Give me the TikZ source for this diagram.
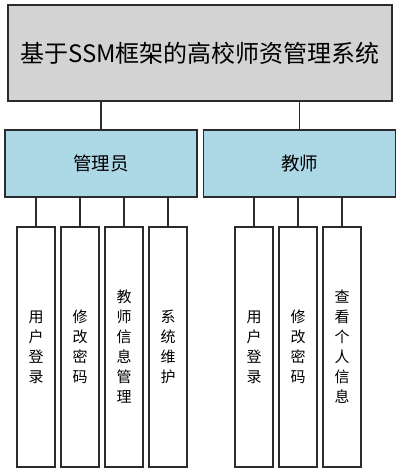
\documentclass[tikz,border=0pt]{standalone}
\usepackage{fontspec}
\newfontfamily\cjk{Noto Sans CJK SC}
\definecolor{boxline}{HTML}{2B2B2B}
\definecolor{titlegray}{HTML}{D3D3D3}
\definecolor{roleblue}{HTML}{ADD8E6}
\begin{document}
\begin{tikzpicture}[x=1pt, y=-1pt,
    every node/.style={draw=boxline, line width=1.3pt, rectangle, inner sep=0pt},
    titlebox/.style={minimum width=384pt, minimum height=96pt, fill=titlegray, font=\cjk\fontsize{24}{28}\selectfont},
    rolebox/.style={minimum width=192pt, minimum height=67pt, fill=roleblue, font=\cjk\fontsize{18.5}{22}\selectfont},
    funcbox/.style={minimum width=38pt, minimum height=240pt, fill=white, align=center, font=\cjk\fontsize{15}{20}\selectfont},
    link/.style={draw=boxline, line width=1.3pt}]

    \useasboundingbox (0,0) rectangle (400,473);

    % Draw the system
    \node[titlebox] (title) at (200, 53) {基于SSM框架的高校师资管理系统};

    % Draw the roles
    \node[rolebox] (admin) at (101, 163.5) {管理员};
    \node[rolebox] (teacher) at (299.5, 163.5) {教师};

    % Draw the admin functions
    \node[funcbox] (a1) at (36, 347) {用\\户\\登\\录};
    \node[funcbox] (a2) at (80, 347) {修\\改\\密\\码};
    \node[funcbox] (a3) at (124, 347) {教\\师\\信\\息\\管\\理};
    \node[funcbox] (a4) at (168, 347) {系\\统\\维\\护};

    % Draw the teacher functions
    \node[funcbox] (t1) at (254, 347) {用\\户\\登\\录};
    \node[funcbox] (t2) at (298, 347) {修\\改\\密\\码};
    \node[funcbox] (t3) at (342, 347) {查\\看\\个\\人\\信\\息};

    % Draw connections
    \draw[link] (admin.north) -- (admin.north |- title.south);
    \draw[link] (teacher.north) -- (teacher.north |- title.south);
    \draw[link] (a1.north) -- (a1.north |- admin.south);
    \draw[link] (a2.north) -- (a2.north |- admin.south);
    \draw[link] (a3.north) -- (a3.north |- admin.south);
    \draw[link] (a4.north) -- (a4.north |- admin.south);
    \draw[link] (t1.north) -- (t1.north |- teacher.south);
    \draw[link] (t2.north) -- (t2.north |- teacher.south);
    \draw[link] (t3.north) -- (t3.north |- teacher.south);

\end{tikzpicture}
\end{document}
